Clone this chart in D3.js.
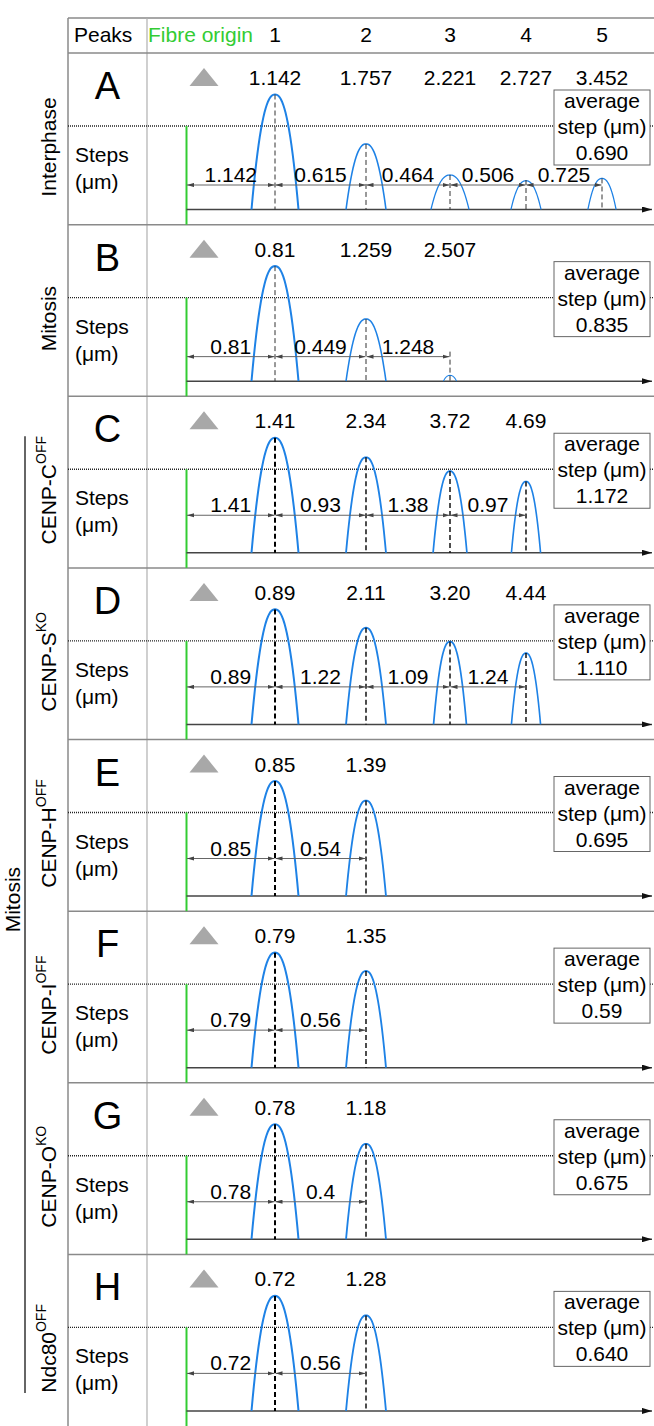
<!DOCTYPE html>
<html>
<head>
<meta charset="utf-8">
<script src="https://cdn.jsdelivr.net/npm/d3@7"></script>
<style>
  body { margin: 0; background: #fff; }
  svg text { font-family: "Liberation Sans", Arial, sans-serif; fill: #000; }
</style>
</head>
<body>
<script>
// Values
var panels = ["A", "B", "C", "D", "E", "F", "G", "H"];
var conditions = ["Interphase", "Mitosis", "CENP-C", "CENP-S", "CENP-H", "CENP-I", "CENP-O", "Ndc80"];
var conditionSup = ["", "", "OFF", "KO", "OFF", "OFF", "KO", "OFF"];
var peakColumns = ["1", "2", "3", "4", "5"];

// peak positions from the fibre origin (um), as printed
var peakPositions = [
  ["1.142", "1.757", "2.221", "2.727", "3.452"],
  ["0.81", "1.259", "2.507"],
  ["1.41", "2.34", "3.72", "4.69"],
  ["0.89", "2.11", "3.20", "4.44"],
  ["0.85", "1.39"],
  ["0.79", "1.35"],
  ["0.78", "1.18"],
  ["0.72", "1.28"]
];
// steps between consecutive peaks (um)
var stepSizes = [
  ["1.142", "0.615", "0.464", "0.506", "0.725"],
  ["0.81", "0.449", "1.248"],
  ["1.41", "0.93", "1.38", "0.97"],
  ["0.89", "1.22", "1.09", "1.24"],
  ["0.85", "0.54"],
  ["0.79", "0.56"],
  ["0.78", "0.4"],
  ["0.72", "0.56"]
];
var averageSteps = ["0.690", "0.835", "1.172", "1.110", "0.695", "0.59", "0.675", "0.640"];

// relative peak intensity and peak width (first peak = 1)
var peakHeights = [
  [1, 0.57, 0.30, 0.25, 0.27],
  [1, 0.54, 0.05],
  [1, 0.83, 0.71, 0.62],
  [1, 0.84, 0.72, 0.62],
  [1, 0.83],
  [1, 0.84],
  [1, 0.83],
  [1, 0.83]
];
var peakWidths = [
  [1, 0.85, 0.81, 0.64, 0.60],
  [1, 0.85, 0.28],
  [1, 0.85, 0.72, 0.62],
  [1, 0.85, 0.70, 0.62],
  [1, 0.85],
  [1, 0.85],
  [1, 0.85],
  [1, 0.85]
];

// Layout
var width = 654, height = 1426;
var tableLeft = 68, tableTop = 18, headerBottom = 53, colDivider = 147;
var blue = "#1e82e6", green = "#33cc33", lineGray = "#8a8a8a";
var fontSize = 21;

var svg = d3.select("body")
    .append("svg")
    .attr("width", width)
    .attr("height", height);

// Scales
// panel rows
var y = d3.scaleBand()
    .domain(panels)
    .range([headerBottom, height]);
// fibre origin (0) and peak columns 1..5
var x = d3.scaleLinear()
    .domain([0, 1, 2, 3, 4, 5])
    .range([186.5, 275, 366, 450, 526, 602]);
// peak height
var hScale = d3.scaleLinear().domain([0, 1]).range([0, 115]);
// peak half width
var wScale = d3.scaleLinear().domain([0, 1]).range([0, 23.5]);

// Arrow markers
var defs = svg.append("defs");
defs.append("marker")
    .attr("id", "stepHead")
    .attr("viewBox", "0 0 10 6")
    .attr("refX", 10).attr("refY", 3)
    .attr("markerUnits", "userSpaceOnUse")
    .attr("markerWidth", 7).attr("markerHeight", 4.5)
    .attr("orient", "auto-start-reverse")
    .append("path")
    .attr("d", "M0,0 L10,3 L0,6 Z")
    .attr("fill", "#444");
defs.append("marker")
    .attr("id", "axisHead")
    .attr("viewBox", "0 0 10 6")
    .attr("refX", 10).attr("refY", 3)
    .attr("markerUnits", "userSpaceOnUse")
    .attr("markerWidth", 12).attr("markerHeight", 6)
    .attr("orient", "auto")
    .append("path")
    .attr("d", "M0,0 L10,3 L0,6 Z")
    .attr("fill", "#111");

// Table frame
var frame = svg.append("g");
frame.append("line")
    .attr("x1", tableLeft).attr("x2", width)
    .attr("y1", tableTop).attr("y2", tableTop)
    .attr("stroke", lineGray).attr("stroke-width", 1.5);
frame.append("line")
    .attr("x1", tableLeft).attr("x2", tableLeft)
    .attr("y1", tableTop).attr("y2", height)
    .attr("stroke", lineGray).attr("stroke-width", 1.5);
frame.append("line")
    .attr("x1", colDivider).attr("x2", colDivider)
    .attr("y1", tableTop).attr("y2", height)
    .attr("stroke", "#b0b0b0").attr("stroke-width", 1.2);
frame.selectAll("line.sep")
    .data(panels)
    .enter().append("line")
    .attr("class", "sep")
    .attr("x1", tableLeft).attr("x2", width)
    .attr("y1", d => y(d)).attr("y2", d => y(d))
    .attr("stroke", lineGray).attr("stroke-width", 1.5);

// Header row
var headerY = 42;
svg.append("text")
    .attr("x", 74).attr("y", headerY)
    .style("font-size", fontSize + "px")
    .text("Peaks");
svg.append("text")
    .attr("x", 148).attr("y", headerY)
    .style("font-size", fontSize + "px")
    .style("fill", green)
    .text("Fibre origin");
svg.selectAll("text.col")
    .data(peakColumns)
    .enter().append("text")
    .attr("class", "col")
    .attr("x", (d, i) => x(i + 1))
    .attr("y", headerY)
    .attr("text-anchor", "middle")
    .style("font-size", fontSize + "px")
    .text(d => d);

// Mitosis group bracket
var groupTop = y("C") + 40, groupBottom = height - 33;
svg.append("line")
    .attr("x1", 25).attr("x2", 25)
    .attr("y1", groupTop).attr("y2", groupBottom)
    .attr("stroke", "#333").attr("stroke-width", 1.5);
svg.append("text")
    .attr("transform", "translate(20," + ((groupTop + groupBottom) / 2 - 15) + ") rotate(-90)")
    .attr("text-anchor", "middle")
    .style("font-size", fontSize + "px")
    .text("Mitosis");

// peak outline
function peakPath(cx, base, hh, hw) {
  var pts = d3.range(-1, 1.0001, 0.05).map(t => [cx + t * hw, base - hh * (1 - Math.pow(Math.abs(t), 2.3))]);
  return d3.line()(pts);
}

panels.forEach(function (p, i) {
  var top = y(p);
  var bottom = top + y.bandwidth();
  var dotY = top + 73;
  var baseY = top + 156.5;
  var arrowY = i < 2 ? top + 132 : top + 119;
  var g = svg.append("g");

  // condition label (rotated)
  var lab = g.append("text")
      .attr("transform", "translate(56," + (top + 94) + ") rotate(-90)")
      .attr("text-anchor", "middle")
      .style("font-size", fontSize + "px");
  lab.append("tspan").text(conditions[i]);
  if (conditionSup[i]) {
    lab.append("tspan")
        .attr("dy", -10)
        .style("font-size", "14px")
        .text(conditionSup[i]);
  }

  // panel letter
  g.append("text")
      .attr("x", (tableLeft + colDivider) / 2)
      .attr("y", top + 46)
      .attr("text-anchor", "middle")
      .style("font-size", "38px")
      .text(p);

  // Steps (um)
  g.append("text")
      .attr("x", 75).attr("y", top + 109)
      .style("font-size", fontSize + "px")
      .text("Steps");
  g.append("text")
      .attr("x", 75).attr("y", top + 136)
      .style("font-size", fontSize + "px")
      .text("(\u03bcm)");

  // dotted divider
  g.append("line")
      .attr("x1", tableLeft).attr("x2", width)
      .attr("y1", dotY).attr("y2", dotY)
      .attr("stroke", "#222").attr("stroke-width", 1.3)
      .attr("stroke-dasharray", "1,1");

  // fibre origin
  g.append("line")
      .attr("x1", x(0)).attr("x2", x(0))
      .attr("y1", dotY).attr("y2", bottom)
      .attr("stroke", green).attr("stroke-width", 2);

  // grey triangle marker
  g.append("path")
      .attr("d", "M" + 189.5 + "," + (top + 33) + " L" + 204 + "," + (top + 15) + " L" + 218.5 + "," + (top + 33) + " Z")
      .attr("fill", "#a8a8a8");

  // axis
  g.append("line")
      .attr("x1", x(0)).attr("x2", 652)
      .attr("y1", baseY).attr("y2", baseY)
      .attr("stroke", "#444").attr("stroke-width", 1.5)
      .attr("marker-end", "url(#axisHead)");

  var peaks = peakPositions[i].map((v, k) => ({
    label: v,
    col: k + 1,
    h: peakHeights[i][k],
    w: peakWidths[i][k]
  }));

  // peak value labels
  g.selectAll("text.peak")
      .data(peaks)
      .enter().append("text")
      .attr("class", "peak")
      .attr("x", d => x(d.col))
      .attr("y", top + 32)
      .attr("text-anchor", "middle")
      .style("font-size", fontSize + "px")
      .text(d => d.label);

  // peak outlines
  g.selectAll("path.peak")
      .data(peaks)
      .enter().append("path")
      .attr("class", "peak")
      .attr("d", d => peakPath(x(d.col), baseY, hScale(d.h), wScale(d.w)))
      .attr("fill", "none")
      .attr("stroke", blue)
      .attr("stroke-width", d => 1 + d.h);

  // dashed centre lines
  g.selectAll("line.centre")
      .data(peaks)
      .enter().append("line")
      .attr("class", "centre")
      .attr("x1", d => x(d.col)).attr("x2", d => x(d.col))
      .attr("y1", d => Math.min(baseY - hScale(d.h), arrowY - 5))
      .attr("y2", baseY)
      .attr("stroke", (d, k) => (i >= 2 ? "#000" : "#333"))
      .attr("stroke-width", (d, k) => (i >= 2 ? (k === 0 ? 2 : 1.4) : 1))
      .attr("stroke-dasharray", "5,3");

  // step arrows
  var steps = stepSizes[i].map((v, k) => ({ label: v, from: k, to: k + 1 }));
  g.selectAll("line.step")
      .data(steps)
      .enter().append("line")
      .attr("class", "step")
      .attr("x1", d => x(d.from) + 0.5).attr("x2", d => x(d.to) - 0.5)
      .attr("y1", arrowY).attr("y2", arrowY)
      .attr("stroke", "#666").attr("stroke-width", 1)
      .attr("marker-start", "url(#stepHead)")
      .attr("marker-end", "url(#stepHead)");
  g.selectAll("text.step")
      .data(steps)
      .enter().append("text")
      .attr("class", "step")
      .attr("x", d => (x(d.from) + x(d.to)) / 2)
      .attr("y", arrowY - 3)
      .attr("text-anchor", "middle")
      .style("font-size", fontSize + "px")
      .text(d => d.label);

  // average step box
  var box = g.append("g").attr("transform", "translate(554," + (top + 37) + ")");
  box.append("rect")
      .attr("width", 96).attr("height", 75)
      .attr("fill", "#fff")
      .attr("stroke", "#666").attr("stroke-width", 1);
  ["average", "step (\u03bcm)", averageSteps[i]].forEach(function (t, j) {
    box.append("text")
        .attr("x", 48).attr("y", 18 + j * 26)
        .attr("text-anchor", "middle")
        .style("font-size", fontSize + "px")
        .text(t);
  });
});
</script>
</body>
</html>
